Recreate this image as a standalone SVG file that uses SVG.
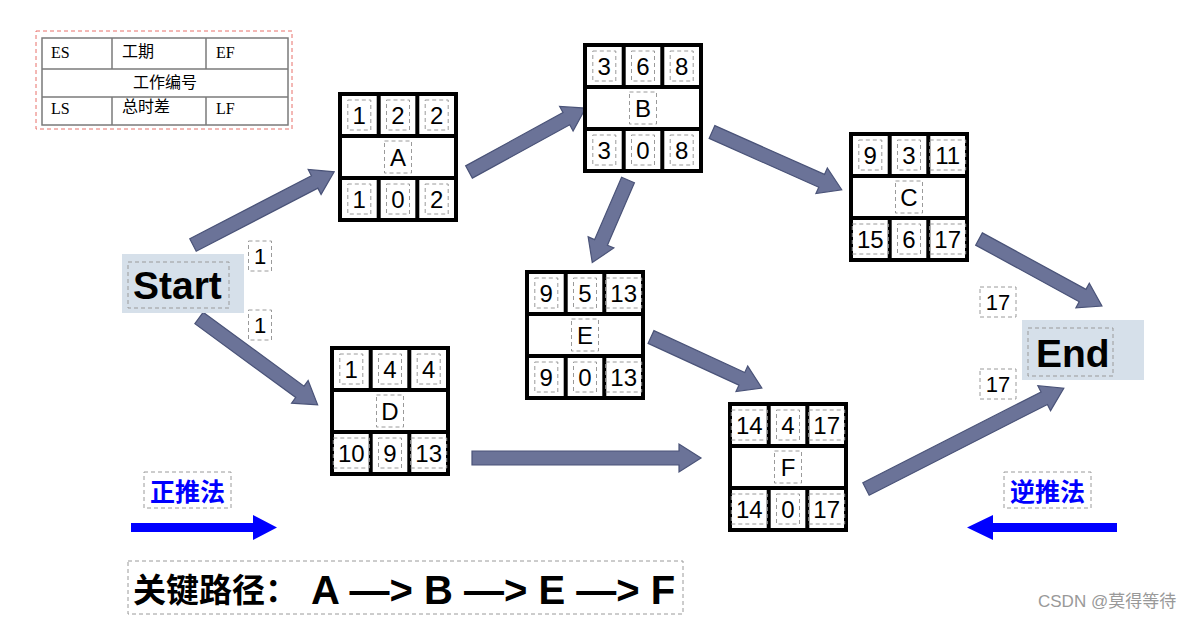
<svg xmlns="http://www.w3.org/2000/svg" width="1190" height="619" viewBox="0 0 1190 619">
<style>
.frame{fill:#fff;stroke:#000;stroke-width:4}
.ln{stroke:#000;stroke-width:4}
.db{fill:none;stroke:#9a9a9a;stroke-width:1;stroke-dasharray:4,3}
.num{font-family:"Liberation Sans",Arial,sans-serif;font-size:24px;fill:#000;text-anchor:middle}
.big{font-family:"Liberation Sans",Arial,sans-serif;font-size:39px;font-weight:bold;fill:#000}
.lbl{font-family:"Liberation Sans",Arial,sans-serif;font-size:22px;fill:#000;text-anchor:middle}
.arr{fill:#6b7398;stroke:#4a5378;stroke-width:1.2}
.leg{font-family:"Liberation Serif","Noto Sans CJK SC",serif;font-size:16px;fill:#000}
.tl{stroke:#7a7a7a;stroke-width:1.5;fill:none}
.blue{font-family:"Noto Sans CJK SC",sans-serif;font-size:25px;font-weight:bold;fill:#0000ff}
</style>
<defs>
<g id="grid">
<rect class="frame" x="0" y="0" width="116" height="126"/>
<line class="ln" x1="0" y1="42" x2="116" y2="42"/>
<line class="ln" x1="0" y1="84" x2="116" y2="84"/>
<line class="ln" x1="38.7" y1="0" x2="38.7" y2="42"/>
<line class="ln" x1="77.3" y1="0" x2="77.3" y2="42"/>
<line class="ln" x1="38.7" y1="84" x2="38.7" y2="126"/>
<line class="ln" x1="77.3" y1="84" x2="77.3" y2="126"/>
</g>
<rect id="b1" class="db" x="-11.5" y="-15" width="23" height="30"/>
<rect id="b2" class="db" x="-18" y="-15" width="36" height="30"/>
<rect id="bl" class="db" x="-13.5" y="-16" width="27" height="32"/>
</defs>

<!-- legend -->
<g id="legend">
<rect x="36" y="31" width="256" height="98" fill="none" stroke="#e8706a" stroke-width="1" stroke-dasharray="4,3"/>
<rect class="tl" x="42" y="38" width="246" height="87"/>
<line class="tl" x1="42" y1="69" x2="288" y2="69"/>
<line class="tl" x1="42" y1="97" x2="288" y2="97"/>
<line class="tl" x1="112" y1="38" x2="112" y2="69"/>
<line class="tl" x1="206" y1="38" x2="206" y2="69"/>
<line class="tl" x1="112" y1="97" x2="112" y2="125"/>
<line class="tl" x1="206" y1="97" x2="206" y2="125"/>
<text class="leg" x="51" y="58">ES</text>
<text class="leg" x="122" y="57">工期</text>
<text class="leg" x="216" y="58">EF</text>
<text class="leg" x="165" y="88" text-anchor="middle">工作编号</text>
<text class="leg" x="51" y="114">LS</text>
<text class="leg" x="122" y="112">总时差</text>
<text class="leg" x="216" y="114">LF</text>
</g>

<!-- connectors -->
<g id="connectors">
<path class="arr" transform="translate(193,245) rotate(-27.4)" d="M0,-7 H137 V-14 L159,0 L137,14 V7 H0 Z"/>
<path class="arr" transform="translate(199,318) rotate(36.2)" d="M0,-7 H125 V-14 L147,0 L125,14 V7 H0 Z"/>
<path class="arr" transform="translate(469,172) rotate(-28.7)" d="M0,-7 H111 V-14 L133,0 L111,14 V7 H0 Z"/>
<path class="arr" transform="translate(628,180) rotate(113.4)" d="M0,-7 H68 V-14 L90,0 L68,14 V7 H0 Z"/>
<path class="arr" transform="translate(712,132) rotate(24)" d="M0,-7 H120 V-14 L142,0 L120,14 V7 H0 Z"/>
<path class="arr" transform="translate(651,337) rotate(24.7)" d="M0,-7 H100 V-14 L122,0 L100,14 V7 H0 Z"/>
<path class="arr" transform="translate(472,458)" d="M0,-7 H207 V-14 L229,0 L207,14 V7 H0 Z"/>
<path class="arr" transform="translate(979,239) rotate(28.6)" d="M0,-7 H118 V-14 L140,0 L118,14 V7 H0 Z"/>
<path class="arr" transform="translate(866,489) rotate(-27)" d="M0,-7 H200 V-14 L222,0 L200,14 V7 H0 Z"/>
</g>

<!-- start / end -->
<g id="start">
<rect x="122" y="254" width="122" height="59" fill="#d6e0ea"/>
<rect class="db" x="128" y="262" width="101" height="46"/>
<text class="big" x="133" y="299">Start</text>
</g>
<g id="end">
<rect x="1022" y="320" width="122" height="60" fill="#d6e0ea"/>
<rect class="db" x="1028" y="328" width="85" height="48"/>
<text class="big" x="1036" y="367">End</text>
</g>

<g id="weights">
<use href="#b1" x="260" y="256"/><text class="lbl" x="260" y="264">1</text>
<use href="#b1" x="260" y="325"/><text class="lbl" x="260" y="333">1</text>
<use href="#b2" x="998" y="302"/><text class="lbl" x="998" y="310">17</text>
<use href="#b2" x="998" y="384"/><text class="lbl" x="998" y="392">17</text>
</g>

<!-- nodes -->
<g id="nodeA" transform="translate(340,94)">
<use href="#grid"/>
<use href="#b1" x="19.3" y="21"/><text class="num" x="19.3" y="30">1</text>
<use href="#b1" x="58" y="21"/><text class="num" x="58" y="30">2</text>
<use href="#b1" x="96.7" y="21"/><text class="num" x="96.7" y="30">2</text>
<use href="#bl" x="58" y="63"/><text class="num" x="58" y="72">A</text>
<use href="#b1" x="19.3" y="105"/><text class="num" x="19.3" y="114">1</text>
<use href="#b1" x="58" y="105"/><text class="num" x="58" y="114">0</text>
<use href="#b1" x="96.7" y="105"/><text class="num" x="96.7" y="114">2</text>
</g>
<g id="nodeB" transform="translate(585,45)">
<use href="#grid"/>
<use href="#b1" x="19.3" y="21"/><text class="num" x="19.3" y="30">3</text>
<use href="#b1" x="58" y="21"/><text class="num" x="58" y="30">6</text>
<use href="#b1" x="96.7" y="21"/><text class="num" x="96.7" y="30">8</text>
<use href="#bl" x="58" y="63"/><text class="num" x="58" y="72">B</text>
<use href="#b1" x="19.3" y="105"/><text class="num" x="19.3" y="114">3</text>
<use href="#b1" x="58" y="105"/><text class="num" x="58" y="114">0</text>
<use href="#b1" x="96.7" y="105"/><text class="num" x="96.7" y="114">8</text>
</g>
<g id="nodeC" transform="translate(851,134)">
<use href="#grid"/>
<use href="#b1" x="19.3" y="21"/><text class="num" x="19.3" y="30">9</text>
<use href="#b1" x="58" y="21"/><text class="num" x="58" y="30">3</text>
<use href="#b2" x="96.7" y="21"/><text class="num" x="96.7" y="30">11</text>
<use href="#bl" x="58" y="63"/><text class="num" x="58" y="72">C</text>
<use href="#b2" x="19.3" y="105"/><text class="num" x="19.3" y="114">15</text>
<use href="#b1" x="58" y="105"/><text class="num" x="58" y="114">6</text>
<use href="#b2" x="96.7" y="105"/><text class="num" x="96.7" y="114">17</text>
</g>
<g id="nodeD" transform="translate(332,348)">
<use href="#grid"/>
<use href="#b1" x="19.3" y="21"/><text class="num" x="19.3" y="30">1</text>
<use href="#b1" x="58" y="21"/><text class="num" x="58" y="30">4</text>
<use href="#b1" x="96.7" y="21"/><text class="num" x="96.7" y="30">4</text>
<use href="#bl" x="58" y="63"/><text class="num" x="58" y="72">D</text>
<use href="#b2" x="19.3" y="105"/><text class="num" x="19.3" y="114">10</text>
<use href="#b1" x="58" y="105"/><text class="num" x="58" y="114">9</text>
<use href="#b2" x="96.7" y="105"/><text class="num" x="96.7" y="114">13</text>
</g>
<g id="nodeE" transform="translate(527,272)">
<use href="#grid"/>
<use href="#b1" x="19.3" y="21"/><text class="num" x="19.3" y="30">9</text>
<use href="#b1" x="58" y="21"/><text class="num" x="58" y="30">5</text>
<use href="#b2" x="96.7" y="21"/><text class="num" x="96.7" y="30">13</text>
<use href="#bl" x="58" y="63"/><text class="num" x="58" y="72">E</text>
<use href="#b1" x="19.3" y="105"/><text class="num" x="19.3" y="114">9</text>
<use href="#b1" x="58" y="105"/><text class="num" x="58" y="114">0</text>
<use href="#b2" x="96.7" y="105"/><text class="num" x="96.7" y="114">13</text>
</g>
<g id="nodeF" transform="translate(730,404)">
<use href="#grid"/>
<use href="#b2" x="19.3" y="21"/><text class="num" x="19.3" y="30">14</text>
<use href="#b1" x="58" y="21"/><text class="num" x="58" y="30">4</text>
<use href="#b2" x="96.7" y="21"/><text class="num" x="96.7" y="30">17</text>
<use href="#bl" x="58" y="63"/><text class="num" x="58" y="72">F</text>
<use href="#b2" x="19.3" y="105"/><text class="num" x="19.3" y="114">14</text>
<use href="#b1" x="58" y="105"/><text class="num" x="58" y="114">0</text>
<use href="#b2" x="96.7" y="105"/><text class="num" x="96.7" y="114">17</text>
</g>

<!-- direction legends -->
<g id="forward">
<rect class="db" x="144" y="472" width="87" height="36"/>
<text class="blue" x="150" y="501">正推法</text>
<path d="M131,523 H253 V515 L277,527.5 L253,540 V532 H131 Z" fill="#0000ff"/>
</g>
<g id="backward">
<rect class="db" x="1004" y="472" width="87" height="36"/>
<text class="blue" x="1010" y="501">逆推法</text>
<path d="M1117,523 H993 V515 L967,527.5 L993,540 V532 H1117 Z" fill="#0000ff"/>
</g>

<g id="critical">
<rect class="db" x="128" y="561" width="555" height="53"/>
<text x="133" y="602" font-family="'Noto Sans CJK SC',sans-serif" font-size="33" font-weight="bold" fill="#000">关键路径：</text>
<text x="311" y="604" font-family="'Liberation Sans',Arial,sans-serif" font-size="40" font-weight="bold" fill="#000">A —&gt; B —&gt; E —&gt; F</text>
</g>

<text x="1038" y="607" font-family="'Liberation Sans','Noto Sans CJK SC',sans-serif" font-size="17" fill="#999">CSDN @莫得等待</text>
</svg>
